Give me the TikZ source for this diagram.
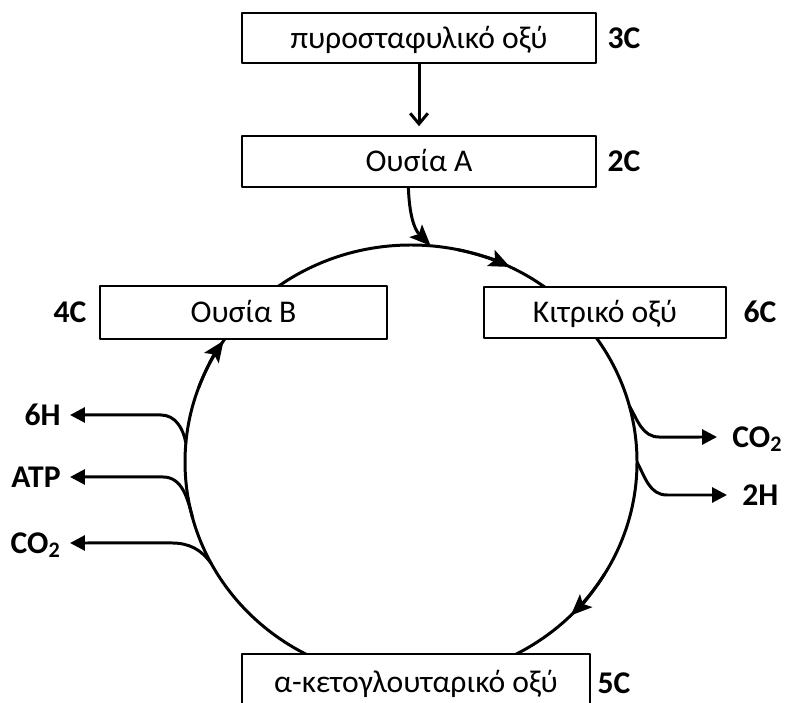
\documentclass[tikz,border=0pt]{standalone}
\usepackage{fontspec}
\setmainfont{Carlito}
\usetikzlibrary{arrows.meta}

\begin{document}
\fontsize{18}{21}\selectfont
\begin{tikzpicture}[x=0.02cm, y=0.02cm, line join=round,
    box/.style={draw, line width=0.9pt, fill=white, inner sep=0pt,
      text height=0.644em, text depth=0pt},
    cnum/.style={font=\bfseries, inner sep=0pt, text height=0.644em, text depth=0pt},
    prod/.style={font=\bfseries, inner ysep=0pt, inner xsep=0.3cm,
      text height=0.644em, text depth=0pt},
    prodl/.style={prod, inner xsep=0.18cm},
    flow/.style={line width=1.7pt},
    ringtip/.style={-{Stealth[length=12pt,width=10pt,inset=2.5pt]}},
    >={Triangle[length=8.5pt,width=8.5pt]}]
    \useasboundingbox (0,0) rectangle (786,702);

    % the cycle
    \begin{scope}[shift={(411,240)}]
      \draw[flow] (0,0) ellipse [x radius=226, y radius=217];
      \foreach \a in {64,-45,146}{
        \draw[flow,ringtip] (\a+14:226 and 217)
          arc[start angle=\a+14, end angle=\a, x radius=226, y radius=217];
      }
      \coordinate (jA) at (85:226 and 217);
      \coordinate (jCO2) at (15:226 and 217);
      \coordinate (j2H) at (0:226 and 217);
      \coordinate (j6H) at (175:226 and 217);
      \coordinate (jATP) at (195:226 and 217);
      \coordinate (jCO2b) at (208:226 and 217);
    \end{scope}

    \node[box, minimum width=7.08cm, minimum height=1cm] (pyr) at (419,664) {πυροσταφυλικό οξύ};
    \node[box, minimum width=7.08cm, minimum height=1.02cm] (oA) at (419,540.5) {Ουσία Α};
    \node[box, minimum width=5.74cm, minimum height=1.06cm] (oB) at (243.5,389.5) {Ουσία Β};
    \node[box, minimum width=4.84cm, minimum height=1.02cm] (cit) at (605,389.5) {Κιτρικό οξύ};
    \node[box, minimum width=6.96cm, minimum height=1.12cm] (keto) at (416,20) {α-κετογλουταρικό οξύ};

    % carbon atoms
    \node[cnum] (c3) at (624,664) {3C};
    \node[cnum] (c2) at (624,541) {2C};
    \node[cnum] (c4) at (70,389.5) {4C};
    \node[cnum] (c6) at (760,389.5) {6C};
    \node[cnum] (c5) at (614,19) {5C};

    \draw[flow,-{Straight Barb[length=6pt,width=10pt]}, shorten >=0.18cm] (pyr) -- (oA);
    \draw[flow,ringtip] (oA.-112) to[out=-88,in=135] (jA);

    % products leaving the cycle
    \node[prod, anchor=west] (co2r) at (717,265) {CO\textsubscript{2}};
    \node[prod, anchor=west] (h2) at (727,207) {2H};
    \node[prodl, anchor=east] (h6) at (70,287) {6H};
    \node[prodl, anchor=east] (atp) at (70,225) {ATP};
    \node[prodl, anchor=east] (co2l) at (70,159) {CO\textsubscript{2}};

    \draw[flow,->] (jCO2) to[out=-60,in=180] ++(30,-31.2) -- (co2r.west);
    \draw[flow,->] (j2H) to[out=-62,in=180] ++(30,-33) -- (h2.west);
    \draw[flow,->] (j6H) to[out=100,in=0] ++(-25,28.1) -- (h6.east);
    \draw[flow,->] (jATP) to[out=105,in=0] ++(-30,41.2) -- (atp.east);
    \draw[flow,->] (jCO2b) to[out=125,in=0] ++(-40,20.9) -- (co2l.east);
  \end{tikzpicture}
\end{document}
